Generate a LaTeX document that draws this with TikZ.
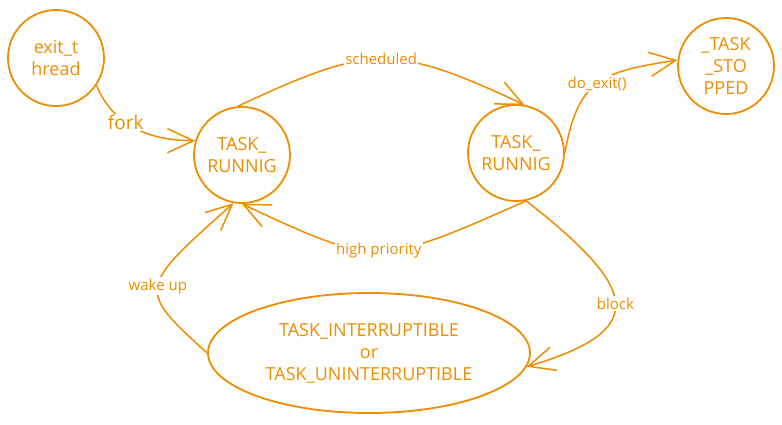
\documentclass[tikz,border=0pt]{standalone}
\usepackage{fontspec}
\setmainfont{Open Sans}
\usepackage{tikz}
\usetikzlibrary{arrows.meta}
\usetikzlibrary{positioning}
\usetikzlibrary{shapes.geometric}

\definecolor{exorange}{HTML}{F08C00}

\begin{document}
\begin{tikzpicture}[x=1pt,y=-1pt,>={Straight Barb[length=26pt,width=24pt]},
    state/.style={draw=exorange,circle,line width=1.8pt,minimum size=96pt,
      inner sep=0pt,align=center,text=exorange,font=\fontsize{18}{22}\selectfont},
    lbl/.style={fill=white,inner sep=1.5pt,text=exorange,font=\fontsize{15}{17}\selectfont},
    edge/.style={draw=exorange,line width=1.5pt,->}]
  \useasboundingbox (0,0) rectangle (782,425);
  \node [state] (exit) at (56,58) {exit\_t\\hread};
  \node [state] (runA) at (242,155) {TASK\_\\RUNNIG};
  \node [state] (runB) at (516,153) {TASK\_\\RUNNIG};
  \node [state] (stop) at (726,66) {\_TASK\\\_STO\\PPED};
  \node [state,ellipse,minimum width=322pt,minimum height=120pt] (sleep) at (369,353)
    {TASK\_INTERRUPTIBLE\\or\\TASK\_UNINTERRUPTIBLE};
  \draw[edge] (exit.-34) to[out=-68,in=180]
    node[lbl,pos=0.4,font=\fontsize{19}{21}\selectfont] {fork} (runA.163);
  \draw[edge] (runA.95) to[out=25,in=155,looseness=1.3] node[lbl] {scheduled} (runB.80);
  \draw[edge] (runB.east) .. controls (578,80) and (600,72) .. node[lbl] {do\_exit()} (stop.173);
  \draw[edge] (runB.-78) .. controls (377,267) .. node[lbl] {high priority} (runA.-90);
  \draw[edge] (sleep.west) .. controls (137,289) .. node[lbl] {wake up} (runA.-100);
  \draw[edge] (runB.-78) .. controls (640,290) and (650,330) .. node[lbl] {block} (sleep.-5);
\end{tikzpicture}
\end{document}
